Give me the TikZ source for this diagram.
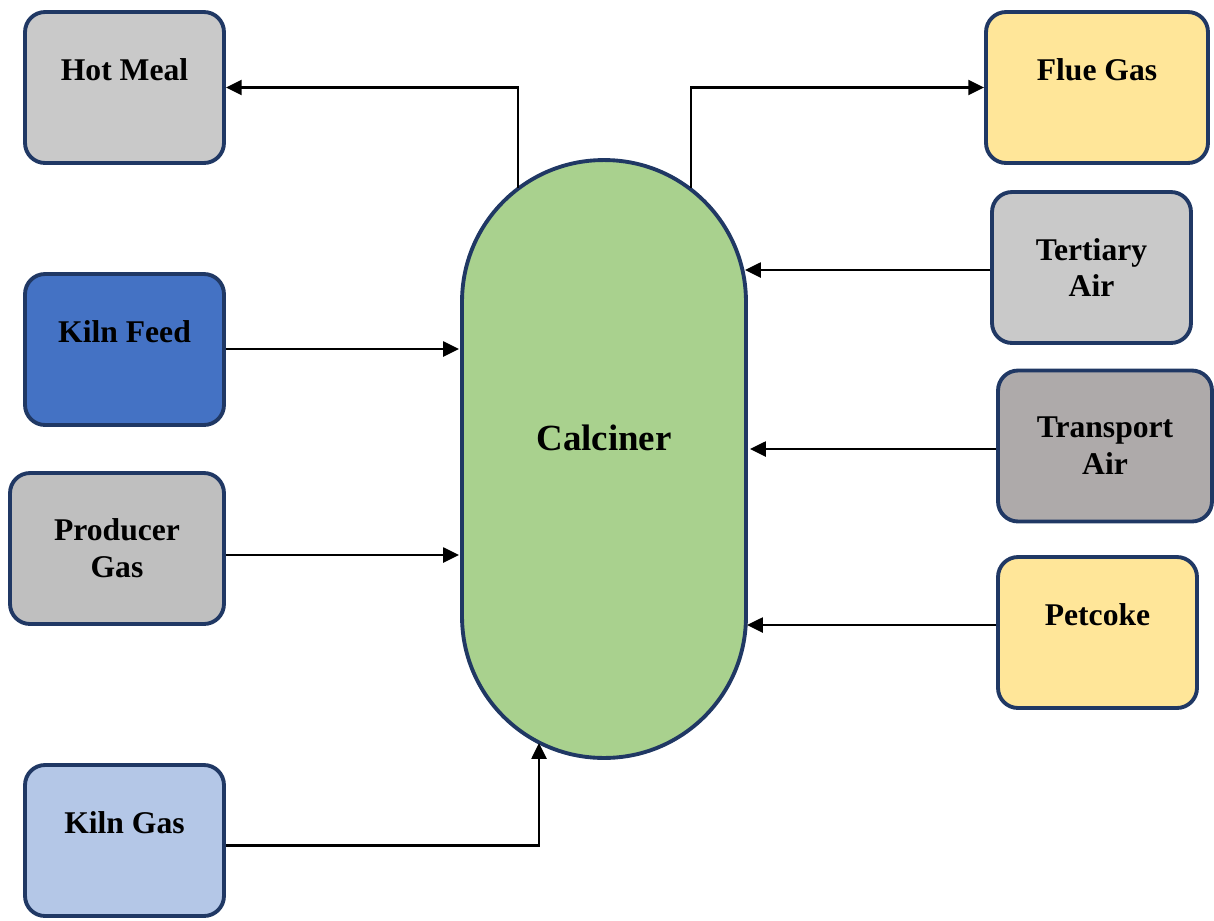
\documentclass[tikz,border=0pt]{standalone}
\usepackage{fontspec}
\setmainfont{Liberation Serif}
\usetikzlibrary{arrows.meta}

\definecolor{navy}{HTML}{203864}
\definecolor{lightgray}{HTML}{C9C9C9}
\definecolor{midgray}{HTML}{BFBFBF}
\definecolor{darkgray}{HTML}{AEAAAA}
\definecolor{feedblue}{HTML}{4472C4}
\definecolor{gasblue}{HTML}{B4C7E7}
\definecolor{paleyellow}{HTML}{FFE699}
\definecolor{calgreen}{HTML}{A9D18E}

\begin{document}
\begin{tikzpicture}[x=0.02cm,y=-0.02cm,
    unit/.style={draw=navy,line width=2.2pt,rounded corners=0.4cm,minimum width=3.98cm,
        minimum height=3.02cm,align=center,font=\fontsize{18}{21}\selectfont\bfseries},
    lifted/.style={text depth=20pt},
    flow/.style={-{Triangle[length=9pt,width=8.5pt]},line width=1.3pt}]
    \useasboundingbox (0,0) rectangle (1214,920);

    \node[draw=navy,line width=2.2pt,fill=calgreen,rounded corners=2.83cm,minimum width=5.68cm,
        minimum height=11.96cm,text depth=24pt,font=\fontsize{21}{25}\selectfont\bfseries]
        (calciner) at (604,459) {Calciner};

    \node[unit,lifted,fill=lightgray] (hot) at (124.5,87.5) {Hot Meal};
    \node[unit,lifted,fill=feedblue] (feed) at (124.5,349.5) {Kiln Feed};
    \node[unit,fill=midgray,minimum width=4.28cm] (prod) at (117,548.5) {Producer\\Gas};
    \node[unit,lifted,fill=gasblue] (kgas) at (124.5,840.5) {Kiln Gas};
    \node[unit,lifted,fill=paleyellow,minimum width=4.44cm] (flue) at (1097,87.5) {Flue Gas};
    \node[unit,fill=lightgray] (tert) at (1091.5,267.5) {Tertiary\\Air};
    \node[unit,fill=darkgray,minimum width=4.28cm] (trans) at (1105,446) {Transport\\Air};
    \node[unit,lifted,fill=paleyellow] (pet) at (1097.5,632.5) {Petcoke};

    \coordinate (cHot) at (518,188);
    \coordinate (cFlue) at (691,188);
    \coordinate (cTert) at (745,270);
    \coordinate (cTrans) at (750,449);
    \coordinate (cPet) at (747,625);
    \coordinate (cFeed) at (459,349);
    \coordinate (cProd) at (459,555);
    \coordinate (cKgas) at (539,743);

    \draw[flow] (cHot) |- (hot.east);
    \draw[flow] (cFlue) |- (flue.west);
    \draw[flow] (cTert -| tert.west) -- (cTert);
    \draw[flow] (cTrans -| trans.west) -- (cTrans);
    \draw[flow] (cPet -| pet.west) -- (cPet);
    \draw[flow] (cFeed -| feed.east) -- (cFeed);
    \draw[flow] (cProd -| prod.east) -- (cProd);
    \draw[flow] ([yshift=-0.1cm]kgas.east) -| (cKgas);
\end{tikzpicture}
\end{document}
